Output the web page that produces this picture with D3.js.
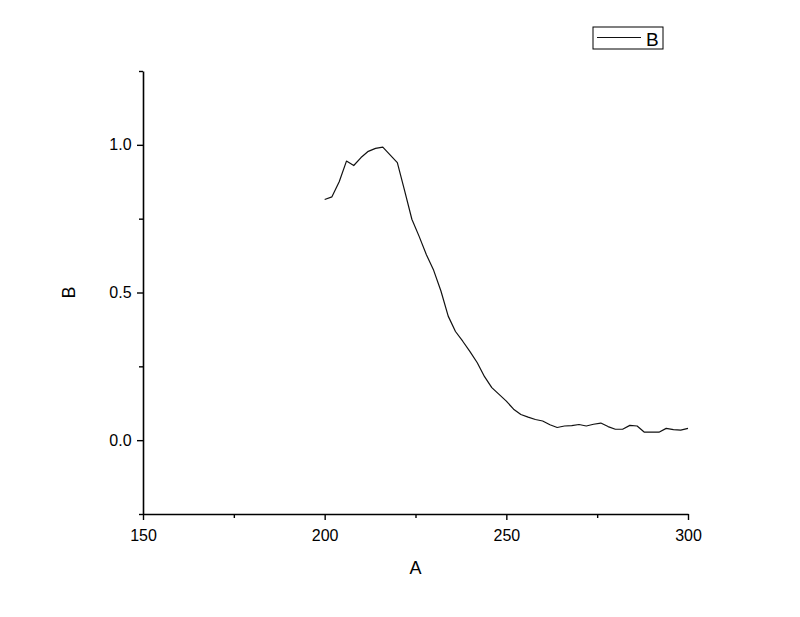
<!DOCTYPE html>
<html>
<head>
<meta charset="utf-8">
<script src="https://cdn.jsdelivr.net/npm/d3@7"></script>
<style>
  body { margin: 0; background: #fff; }
  svg { display: block; font-family: "Liberation Sans", Arial, sans-serif; }
</style>
</head>
<body>
<script>
// data
var xValues = [200, 202, 204, 206, 208, 210, 212, 214, 216, 218,
               220, 222, 224, 226, 228, 230, 232, 234, 236, 238,
               240, 242, 244, 246, 248, 250, 252, 254, 256, 258,
               260, 262, 264, 266, 268, 270, 272, 274, 276, 278,
               280, 282, 284, 286, 288, 290, 292, 294, 296, 298, 300];
var bValues = [0.815, 0.824, 0.875, 0.945, 0.930, 0.957, 0.978, 0.988, 0.992, 0.966,
               0.940, 0.845, 0.748, 0.690, 0.628, 0.575, 0.505, 0.420, 0.368, 0.335,
               0.300, 0.262, 0.215, 0.178, 0.155, 0.132, 0.105, 0.087, 0.078, 0.070,
               0.065, 0.052, 0.043, 0.048, 0.049, 0.053, 0.048, 0.054, 0.058, 0.046,
               0.037, 0.037, 0.050, 0.048, 0.027, 0.027, 0.027, 0.040, 0.036, 0.034, 0.040];
var xMajor = [150, 200, 250, 300],
    xMinor = [175, 225, 275];
var yMajor = [0, 0.5, 1.0],
    yMinor = [-0.25, 0.25, 0.75, 1.25];
var seriesName = "B";

var width = 800, height = 617;

var x = d3.scaleLinear().domain([150, 300]).range([143, 688]),
    y = d3.scaleLinear().domain([-0.25, 1.25]).range([514, 71]);

var svg = d3.select("body").append("svg")
    .attr("width", width)
    .attr("height", height);

// x axis
var xAxis = svg.append("g")
    .attr("transform", "translate(0," + y(-0.25) + ")")
    .call(d3.axisBottom(x).tickValues(xMajor).tickFormat(d3.format("d")).tickSize(6).tickSizeOuter(0));
svg.append("g")
    .attr("transform", "translate(0," + y(-0.25) + ")")
    .call(d3.axisBottom(x).tickValues(xMinor).tickFormat("").tickSize(4).tickSizeOuter(0))
    .select(".domain").remove();

// y axis
var yAxis = svg.append("g")
    .attr("transform", "translate(" + x(150) + ",0)")
    .call(d3.axisLeft(y).tickValues(yMajor).tickFormat(d3.format(".1f")).tickSize(6).tickSizeOuter(0));
svg.append("g")
    .attr("transform", "translate(" + x(150) + ",0)")
    .call(d3.axisLeft(y).tickValues(yMinor).tickFormat("").tickSize(4).tickSizeOuter(0))
    .select(".domain").remove();

svg.selectAll(".domain").attr("stroke", "#000").attr("stroke-width", 1.6);
svg.selectAll(".tick line").attr("stroke", "#000").attr("stroke-width", 1.4);
svg.selectAll(".tick text")
    .attr("fill", "#000")
    .style("font-size", "16px")
    .style("font-family", "Liberation Sans, Arial, sans-serif");
xAxis.selectAll(".tick text").attr("dy", "1.1em");
yAxis.selectAll(".tick text").attr("dx", "-0.15em");

// axis titles
svg.append("text")
    .attr("x", (x(150) + x(300)) / 2)
    .attr("y", 574)
    .attr("text-anchor", "middle")
    .style("font-size", "18px")
    .text("A");

svg.append("text")
    .attr("transform", "translate(75," + y(0.5) + ") rotate(-90)")
    .attr("text-anchor", "middle")
    .style("font-size", "18px")
    .text("B");

// the line
var line = d3.line()
    .x(function(d, i) { return x(xValues[i]); })
    .y(function(d) { return y(d); });

svg.append("path")
    .datum(bValues)
    .attr("fill", "none")
    .attr("stroke", "#111")
    .attr("stroke-width", 1.2)
    .attr("stroke-linejoin", "round")
    .attr("d", line);

// legend
var legend = svg.append("g").attr("transform", "translate(593,27)");
legend.append("rect")
    .attr("width", 70)
    .attr("height", 22)
    .attr("fill", "#fff")
    .attr("stroke", "#000")
    .attr("stroke-width", 1);
legend.append("line")
    .attr("x1", 4).attr("x2", 48)
    .attr("y1", 10.5).attr("y2", 10.5)
    .attr("stroke", "#111")
    .attr("stroke-width", 1.2);
legend.append("text")
    .attr("x", 53)
    .attr("y", 18.5)
    .style("font-size", "19px")
    .text(seriesName);
</script>
</body>
</html>
